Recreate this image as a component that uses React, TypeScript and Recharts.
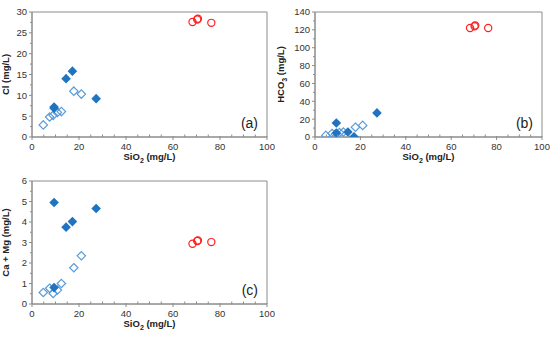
import React from "react";
import { Label, ReferenceArea, Scatter, ScatterChart, XAxis, YAxis } from "recharts";

// SiO2 vs Cl / HCO3 / Ca+Mg, three groups of samples
const sio2Filled = [9.4, 9.4, 14.5, 17.2, 27.3];
const clFilled = [7.2, 6.9, 14.0, 15.8, 9.2];
const hco3Filled = [15.7, 4.5, 5.6, 0.3, 27.0];
const camgFilled = [4.95, 0.8, 3.75, 4.02, 4.66];

const sio2Open = [4.8, 7.5, 9.0, 10.8, 12.5, 17.8, 21.0];
const clOpen = [2.9, 4.8, 5.2, 5.9, 6.1, 11.0, 10.3];
const hco3Open = [1.8, 4.0, 3.0, 5.0, 5.5, 11.0, 13.0];
const camgOpen = [0.56, 0.77, 0.51, 0.68, 1.0, 1.77, 2.35];

const sio2Red = [68.3, 70.3, 70.6, 76.3];
const clRed = [27.6, 28.2, 28.4, 27.4];
const hco3Red = [122, 124, 125, 122];
const camgRed = [2.94, 3.07, 3.1, 3.02];

// major ticks carry a label, minor ones are just marks
const xTicks = [0, 5, 10, 15, 20, 25, 30, 35, 40, 45, 50, 55, 60, 65, 70, 75, 80, 85, 90, 95, 100];
const clTicks = [0, 2.5, 5, 7.5, 10, 12.5, 15, 17.5, 20, 22.5, 25, 27.5, 30];
const hco3Ticks = [0, 10, 20, 30, 40, 50, 60, 70, 80, 90, 100, 110, 120, 130, 140];
const camgTicks = [0, 0.5, 1, 1.5, 2, 2.5, 3, 3.5, 4, 4.5, 5, 5.5, 6];

const zip = (xs: number[], ys: number[]) => xs.map((x, i) => ({ x, y: ys[i] }));

const FONT = "'Liberation Sans', Arial, sans-serif";
const AXIS = "#8c8c8c";
const FILLED = "#1f74c2";
const OPEN = "#5a9bd8";
const RED = "#ff2020";

const FilledDiamond = (p: any) => {
  const { cx, cy } = p;
  const r = 4.8;
  return <polygon points={`${cx},${cy - r} ${cx + r},${cy} ${cx},${cy + r} ${cx - r},${cy}`} fill={FILLED} />;
};
const OpenDiamond = (p: any) => {
  const { cx, cy } = p;
  const r = 4.2;
  return (
    <polygon
      points={`${cx},${cy - r} ${cx + r},${cy} ${cx},${cy + r} ${cx - r},${cy}`}
      fill="none"
      stroke={OPEN}
      strokeWidth={1.2}
    />
  );
};
const RedCircle = (p: any) => <circle cx={p.cx} cy={p.cy} r={3.6} fill="none" stroke={RED} strokeWidth={1.2} />;

const XTick = ({ x, y, payload }: any) => {
  const major = payload.value % 20 === 0;
  return (
    <g>
      <line x1={x} x2={x} y1={major ? y - 1 : y - 2.5} y2={major ? y + 3 : y} stroke={AXIS} />
      {major && (
        <text x={x} y={y + 12.5} textAnchor="middle" fontFamily={FONT} fontSize={9.5} fill="#333">
          {payload.value}
        </text>
      )}
    </g>
  );
};

const yTick = (step: number) => ({ x, y, payload }: any) => {
  const major = Math.abs(payload.value / step - Math.round(payload.value / step)) < 1e-6;
  return (
    <g>
      <line x1={major ? x - 3 : x - 2} x2={x} y1={y} y2={y} stroke={AXIS} />
      {major && (
        <text x={x - 5} y={y + 3.4} textAnchor="end" fontFamily={FONT} fontSize={9.5} fill="#333">
          {payload.value}
        </text>
      )}
    </g>
  );
};

type Title = [string, string, string];

const XTitle = ({ viewBox }: any) => (
  <text x={viewBox.x + viewBox.width / 2} y={viewBox.y + 23} textAnchor="middle" fontFamily={FONT} fontSize={9.5} fontWeight="bold" fill="#222">
    SiO<tspan fontSize={7} dy={2.5}>2</tspan>
    <tspan dy={-2.5}> (mg/L)</tspan>
  </text>
);

const yTitle = (t: Title) => ({ viewBox }: any) => {
  const x = viewBox.x + 9;
  const y = viewBox.y + viewBox.height / 2;
  return (
    <text x={x} y={y} transform={`rotate(-90 ${x} ${y})`} textAnchor="middle" fontFamily={FONT} fontSize={9.5} fontWeight="bold" fill="#222">
      {t[0]}
      {t[1] ? (
        <>
          <tspan fontSize={7} dy={2.5}>{t[1]}</tspan>
          <tspan dy={-2.5}>{t[2]}</tspan>
        </>
      ) : (
        t[2]
      )}
    </text>
  );
};

type PanelProps = {
  left: number;
  top: number;
  height: number;
  marginTop: number;
  yWidth: number;
  yMax: number;
  yStep: number;
  yTicks: number[];
  filled: number[];
  open: number[];
  red: number[];
  title: Title;
  tag: string;
};

function Panel(p: PanelProps) {
  return (
    <div style={{ position: "absolute", left: p.left, top: p.top }}>
      <ScatterChart width={275} height={p.height} margin={{ top: p.marginTop, right: 8, bottom: 3, left: 0 }}>
        <XAxis
          type="number"
          dataKey="x"
          domain={[0, 100]}
          ticks={xTicks}
          interval={0}
          tick={<XTick />}
          tickLine={false}
          tickSize={0}
          tickMargin={0}
          stroke={AXIS}
          height={30}
          allowDataOverflow
        >
          <Label content={<XTitle />} />
        </XAxis>
        <YAxis
          type="number"
          dataKey="y"
          domain={[0, p.yMax]}
          ticks={p.yTicks}
          interval={0}
          tick={yTick(p.yStep)}
          tickLine={false}
          tickSize={0}
          tickMargin={0}
          stroke={AXIS}
          width={p.yWidth}
          allowDataOverflow
        >
          <Label content={yTitle(p.title)} />
        </YAxis>
        <ReferenceArea
          x1={0}
          x2={100}
          y1={0}
          y2={p.yMax}
          fill="none"
          stroke={AXIS}
          strokeWidth={1}
          label={{ value: p.tag, position: "insideBottomRight", offset: 9, fontSize: 14, fontFamily: FONT, fill: "#222" }}
        />
        <Scatter data={zip(sio2Open, p.open)} shape={OpenDiamond} isAnimationActive={false} />
        <Scatter data={zip(sio2Filled, p.filled)} shape={FilledDiamond} isAnimationActive={false} />
        <Scatter data={zip(sio2Red, p.red)} shape={RedCircle} isAnimationActive={false} />
      </ScatterChart>
    </div>
  );
}

export default function App() {
  return (
    <div style={{ position: "absolute", left: 0, top: 0, width: 550, height: 337, background: "#fff" }}>
      <Panel left={0} top={0} height={170} marginTop={12} yWidth={32} yMax={30} yStep={5} yTicks={clTicks}
        filled={clFilled} open={clOpen} red={clRed} title={["Cl (mg/L)", "", ""]} tag="(a)" />
      <Panel left={275} top={0} height={170} marginTop={12} yWidth={40} yMax={140} yStep={20} yTicks={hco3Ticks}
        filled={hco3Filled} open={hco3Open} red={hco3Red} title={["HCO", "3", " (mg/L)"]} tag="(b)" />
      <Panel left={0} top={165} height={172} marginTop={16} yWidth={32} yMax={6} yStep={1} yTicks={camgTicks}
        filled={camgFilled} open={camgOpen} red={camgRed} title={["Ca + Mg (mg/L)", "", ""]} tag="(c)" />
    </div>
  );
}
